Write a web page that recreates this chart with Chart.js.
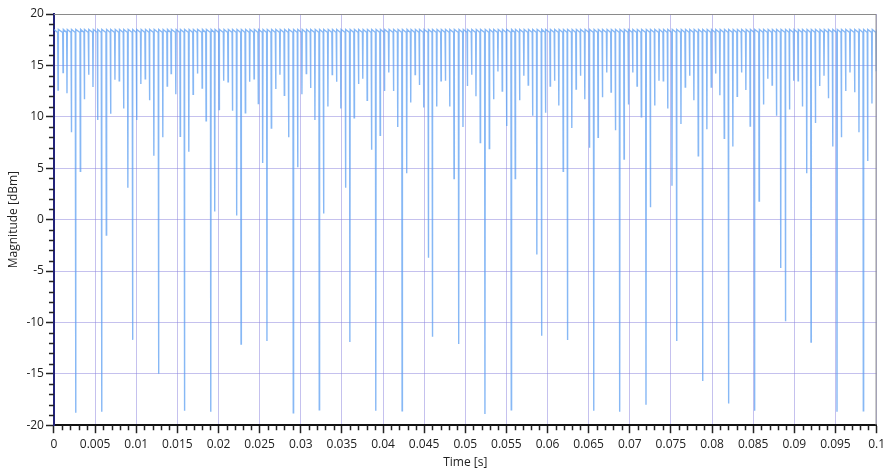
<!DOCTYPE html>
<html lang="en">
<head>
  <meta charset="UTF-8">
  <title>Magnitude vs Time</title>
  <script src="https://cdn.jsdelivr.net/npm/chart.js"></script>
  <style>
    html, body { margin: 0; padding: 0; background: #fff; overflow: hidden; }
    #wrap { width: 889px; height: 470px; }
  </style>
</head>
<body>
  <div id="wrap"><canvas id="magChart"></canvas></div>

  <script>
    // dip positions (ms) and the level each dip reaches (dBm)
    const dipTimesMs = [
      0.49, 1.10, 1.58, 2.11, 2.63, 3.20, 3.69, 4.21, 4.74, 5.30, 5.79, 6.36, 6.88, 7.41, 7.93, 8.46, 8.98, 9.55, 10.04,
      10.56, 11.09, 11.61, 12.14, 12.71, 13.23, 13.76, 14.24, 14.81, 15.34, 15.86, 16.39, 16.91, 17.44, 18.01, 18.49, 19.06, 19.54, 20.07,
      20.63, 21.16, 21.69, 22.21, 22.74, 23.26, 23.79, 24.32, 24.84, 25.37, 25.89, 26.42, 26.95, 27.47, 28.00, 28.52, 29.09, 29.62, 30.14,
      30.67, 31.19, 31.72, 32.25, 32.77, 33.30, 33.82, 34.35, 34.87, 35.44, 35.97, 36.49, 37.02, 37.54, 38.07, 38.60, 39.12, 39.65, 40.17,
      40.70, 41.27, 41.79, 42.32, 42.88, 43.37, 43.90, 44.42, 44.95, 45.51, 46.00, 46.53, 47.05, 47.58, 48.10, 48.63, 49.20, 49.72,
      50.25, 50.77, 51.30, 51.82, 52.39, 52.92, 53.44, 53.97, 54.49, 55.02, 55.59, 56.07, 56.60, 57.12, 57.65, 58.18, 58.70, 59.27, 59.75,
      60.32, 60.85, 61.37, 61.90, 62.42, 62.95, 63.47, 64.00, 64.53, 65.09, 65.62, 66.14, 66.67, 67.20, 67.72, 68.25, 68.77, 69.30, 69.83,
      70.35, 70.88, 71.40, 71.97, 72.50, 73.02, 73.55, 74.07, 74.60, 75.13, 75.69, 76.22, 76.74, 77.27, 77.79, 78.32, 78.85, 79.37, 79.90,
      80.43, 80.95, 81.48, 82.00, 82.53, 83.05, 83.58, 84.11, 84.63, 85.16, 85.72, 86.25, 86.78, 87.30, 87.83, 88.35, 88.92, 89.41, 89.93,
      90.46, 90.98, 91.51, 92.03, 92.56, 93.09, 93.61, 94.14, 94.66, 95.19, 95.72, 96.24, 96.77, 97.33, 97.86, 98.39, 98.91, 99.44, 99.96
    ];
    const dipLevels = [
      12.6, 14.3, 12.3, 8.5, -18.8, 4.7, 11.7, 14.1, 12.9, 9.7, -18.7, -1.5, 10.3, 13.6, 13.5, 10.8, 3.1, -11.7, 9.7,
      13.2, 13.7, 11.6, 6.2, -15.0, 8.0, 13.0, 14.2, 12.2, 8.1, -18.6, 6.6, 12.2, 14.2, 12.8, 9.6, -18.7, 0.8, 10.7,
      13.5, 13.4, 10.6, 0.4, -12.1, 10.4, 13.4, 13.7, 11.3, 5.5, -11.8, 8.9, 12.7, 14.1, 12.1, 8.0, -18.8, 5.1, 12.2,
      14.2, 12.8, 9.7, -18.5, 0.6, 11.0, 14.1, 13.4, 10.8, 3.1, -11.9, 9.9, 13.2, 13.7, 11.6, 6.8, -18.6, 8.2, 12.5,
      14.3, 12.5, 9.0, -18.6, 4.5, 11.4, 14.1, 13.1, 10.9, -3.7, -11.4, 11.0, 13.5, 13.5, 11.0, 4.0, -12.1, 9.0,
      13.0, 14.1, 12.0, 7.5, -18.9, 6.9, 11.7, 14.4, 12.5, 9.1, -18.5, 4.0, 11.6, 14.0, 13.1, 10.1, -3.4, -11.3, 10.4,
      13.0, 13.5, 11.1, 4.7, -11.7, 8.9, 12.7, 14.0, 11.7, 7.0, -18.6, 8.0, 11.9, 14.3, 12.4, 8.7, -18.7, 5.9, 11.2,
      14.3, 13.0, 10.0, -18.0, 1.2, 11.1, 13.5, 13.5, 10.8, 3.3, -11.8, 9.3, 12.9, 14.0, 11.6, 6.2, -15.7, 8.8, 12.9,
      14.2, 12.1, 7.9, -17.9, 7.1, 12.0, 14.3, 12.6, 9.1, -18.6, 1.8, 11.2, 13.7, 13.1, 10.1, -4.7, -9.9, 10.7, 13.5,
      13.5, 11.0, 4.5, -11.9, 9.4, 13.0, 14.0, 11.8, 7.1, -18.7, 8.0, 12.5, 14.3, 12.4, 8.5, -18.6, 5.7, 11.3, 14.5
    ];
    const levelAfterDip = 18.5;    // top of the trace just after a dip
    const levelBeforeDip = 18.2;   // top of the trace just before the next dip
    const dipHalfWidthMs = 0.04;

    const xTickLabels = ['0', '0.005', '0.01', '0.015', '0.02', '0.025', '0.03', '0.035', '0.04', '0.045', '0.05',
      '0.055', '0.06', '0.065', '0.07', '0.075', '0.08', '0.085', '0.09', '0.095', '0.1'];

    // every dip becomes top -> low -> top
    const points = [{ x: 0, y: levelAfterDip }];
    for (let i = 0; i < dipTimesMs.length; i++) {
      const t = dipTimesMs[i];
      points.push({ x: (t - dipHalfWidthMs) / 1000, y: levelBeforeDip });
      points.push({ x: t / 1000, y: dipLevels[i] });
      points.push({ x: (t + dipHalfWidthMs) / 1000, y: levelAfterDip });
    }

    const gridColor = 'rgba(140, 132, 222, 0.5)';

    // minor ticks + grey frame on top/right
    const frameAndMinorTicks = {
      id: 'frameAndMinorTicks',
      afterDraw(chart) {
        const ctx = chart.ctx;
        const area = chart.chartArea;
        const xs = chart.scales.x;
        const ys = chart.scales.y;
        ctx.save();
        ctx.strokeStyle = '#8a8a8a';
        ctx.lineWidth = 1;
        ctx.beginPath();
        ctx.moveTo(area.left, area.top + 0.5);
        ctx.lineTo(area.right - 0.5, area.top + 0.5);
        ctx.lineTo(area.right - 0.5, area.bottom);
        ctx.stroke();

        ctx.strokeStyle = '#222';
        ctx.lineWidth = 1.5;
        ctx.beginPath();
        for (let i = 0; i <= 100; i++) {
          if (i % 5 === 0) continue;
          const px = Math.round(xs.getPixelForValue(i / 1000)) + 0.5;
          ctx.moveTo(px, area.bottom);
          ctx.lineTo(px, area.bottom + 5);
        }
        for (let v = -20; v <= 20; v++) {
          if (v % 5 === 0) continue;
          const py = Math.round(ys.getPixelForValue(v)) + 0.5;
          ctx.moveTo(area.left - 5, py);
          ctx.lineTo(area.left, py);
        }
        ctx.stroke();
        ctx.restore();
      }
    };

    const config = {
      type: 'line',
      data: {
        datasets: [{
          label: 'Magnitude',
          data: points,
          borderColor: 'rgba(95, 160, 242, 0.75)',
          borderWidth: 1.4,
          pointRadius: 0,
          tension: 0,
          fill: false
        }]
      },
      options: {
        responsive: true,
        maintainAspectRatio: false,
        animation: false,
        layout: { padding: { left: 6, right: 2, top: 14, bottom: 0 } },
        plugins: {
          legend: { display: false },
          tooltip: { enabled: false }
        },
        scales: {
          x: {
            type: 'linear',
            min: 0,
            max: 0.1,
            border: { color: '#111', width: 2 },
            grid: {
              color: gridColor,
              tickColor: '#222',
              tickLength: 8,
              tickWidth: 1.5
            },
            ticks: {
              stepSize: 0.005,
              autoSkip: false,
              maxRotation: 0,
              color: '#222',
              padding: 4,
              font: { family: 'Open Sans', size: 12 },
              callback: (value) => xTickLabels[Math.round(value / 0.005)]
            },
            title: {
              display: true,
              text: 'Time [s]',
              color: '#222',
              padding: { top: 0, bottom: 0 },
              font: { family: 'Open Sans', size: 12 }
            }
          },
          y: {
            min: -20,
            max: 20,
            border: { color: '#23237a', width: 2 },
            grid: {
              color: gridColor,
              tickColor: '#222',
              tickLength: 8,
              tickWidth: 1.5
            },
            ticks: {
              stepSize: 5,
              color: '#222',
              padding: 2,
              font: { family: 'Open Sans', size: 12 }
            },
            title: {
              display: true,
              text: 'Magnitude [dBm]',
              color: '#222',
              padding: { top: 0, bottom: 4 },
              font: { family: 'Open Sans', size: 12 }
            }
          }
        }
      },
      plugins: [frameAndMinorTicks]
    };

    const ctx = document.getElementById('magChart').getContext('2d');
    new Chart(ctx, config);
  </script>
</body>
</html>
